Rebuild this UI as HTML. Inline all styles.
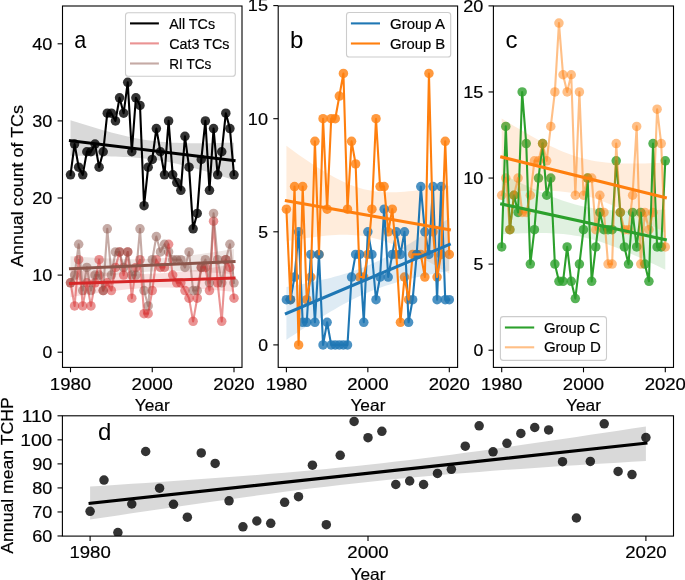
<!DOCTYPE html>
<html><head><meta charset="utf-8"><title>TC figure</title>
<style>html,body{margin:0;padding:0;background:#fff;}body{width:685px;height:580px;overflow:hidden;}svg{display:block;will-change:transform;}</style>
</head><body>
<svg width="685" height="580" viewBox="0 0 685 580" font-family='"Liberation Sans", sans-serif' fill="#000" stroke-width="0">
<rect width="685" height="580" fill="#fff"/>
<defs>
<clipPath id="ca"><rect x="62.5" y="6" width="179.5" height="361.4"/></clipPath>
<clipPath id="cb"><rect x="278.2" y="6" width="179.4" height="361.4"/></clipPath>
<clipPath id="cc"><rect x="493.4" y="6" width="180.1" height="361.4"/></clipPath>
<clipPath id="cd"><rect x="62.4" y="415.8" width="611.1" height="120.3"/></clipPath>
</defs>
<g fill="#000" fill-opacity="0.8" clip-path="url(#ca)">
<circle cx="70.5" cy="174.87" r="4.75"/>
<circle cx="74.59" cy="144.03" r="4.75"/>
<circle cx="78.67" cy="167.16" r="4.75"/>
<circle cx="82.76" cy="174.87" r="4.75"/>
<circle cx="86.85" cy="151.74" r="4.75"/>
<circle cx="90.94" cy="151.74" r="4.75"/>
<circle cx="95.03" cy="144.03" r="4.75"/>
<circle cx="99.11" cy="167.16" r="4.75"/>
<circle cx="103.2" cy="151.74" r="4.75"/>
<circle cx="107.29" cy="113.19" r="4.75"/>
<circle cx="111.38" cy="113.19" r="4.75"/>
<circle cx="115.46" cy="120.9" r="4.75"/>
<circle cx="119.55" cy="97.77" r="4.75"/>
<circle cx="123.64" cy="113.19" r="4.75"/>
<circle cx="127.72" cy="82.35" r="4.75"/>
<circle cx="131.81" cy="151.74" r="4.75"/>
<circle cx="135.9" cy="97.77" r="4.75"/>
<circle cx="139.99" cy="105.48" r="4.75"/>
<circle cx="144.07" cy="205.71" r="4.75"/>
<circle cx="148.16" cy="167.16" r="4.75"/>
<circle cx="152.25" cy="159.45" r="4.75"/>
<circle cx="156.34" cy="128.61" r="4.75"/>
<circle cx="160.43" cy="151.74" r="4.75"/>
<circle cx="164.51" cy="174.87" r="4.75"/>
<circle cx="168.6" cy="120.9" r="4.75"/>
<circle cx="172.69" cy="174.87" r="4.75"/>
<circle cx="176.78" cy="182.58" r="4.75"/>
<circle cx="180.86" cy="190.29" r="4.75"/>
<circle cx="184.95" cy="136.32" r="4.75"/>
<circle cx="189.04" cy="167.16" r="4.75"/>
<circle cx="193.12" cy="228.84" r="4.75"/>
<circle cx="197.21" cy="213.42" r="4.75"/>
<circle cx="201.3" cy="159.45" r="4.75"/>
<circle cx="205.39" cy="120.9" r="4.75"/>
<circle cx="209.47" cy="190.29" r="4.75"/>
<circle cx="213.56" cy="128.61" r="4.75"/>
<circle cx="217.65" cy="174.87" r="4.75"/>
<circle cx="221.74" cy="151.74" r="4.75"/>
<circle cx="225.82" cy="113.19" r="4.75"/>
<circle cx="229.91" cy="128.61" r="4.75"/>
<circle cx="234" cy="174.87" r="4.75"/>
</g>
<path d="M70.5,120.17 L74.59,121.49 L78.67,122.79 L82.76,124.07 L86.85,125.33 L90.94,126.58 L95.03,127.8 L99.11,129 L103.2,130.17 L107.29,131.31 L111.38,132.42 L115.46,133.49 L119.55,134.53 L123.64,135.52 L127.72,136.46 L131.81,137.34 L135.9,138.17 L139.99,138.94 L144.07,139.64 L148.16,140.28 L152.25,140.84 L156.34,141.34 L160.43,141.76 L164.51,142.12 L168.6,142.42 L172.69,142.67 L176.78,142.86 L180.86,143 L184.95,143.11 L189.04,143.18 L193.12,143.22 L197.21,143.23 L201.3,143.22 L205.39,143.19 L209.47,143.14 L213.56,143.09 L217.65,143.02 L221.74,142.94 L225.82,142.85 L229.91,142.76 L234,142.66 L234,180.04 L229.91,178.72 L225.82,177.42 L221.74,176.13 L217.65,174.87 L213.56,173.63 L209.47,172.42 L205.39,171.23 L201.3,170.06 L197.21,168.93 L193.12,167.83 L189.04,166.77 L184.95,165.75 L180.86,164.77 L176.78,163.83 L172.69,162.95 L168.6,162.12 L164.51,161.35 L160.43,160.64 L156.34,159.99 L152.25,159.41 L148.16,158.89 L144.07,158.43 L139.99,158.02 L135.9,157.67 L131.81,157.37 L127.72,157.11 L123.64,156.89 L119.55,156.71 L115.46,156.55 L111.38,156.42 L107.29,156.31 L103.2,156.21 L99.11,156.12 L95.03,156.05 L90.94,155.98 L86.85,155.92 L82.76,155.87 L78.67,155.82 L74.59,155.76 L70.5,155.71 Z" fill="#000" fill-opacity="0.15" stroke="none" clip-path="url(#ca)"/>
<g fill="#d62728" fill-opacity="0.5" clip-path="url(#ca)">
<circle cx="70.5" cy="282.81" r="4.75"/>
<circle cx="74.59" cy="305.94" r="4.75"/>
<circle cx="78.67" cy="259.68" r="4.75"/>
<circle cx="82.76" cy="305.94" r="4.75"/>
<circle cx="86.85" cy="282.81" r="4.75"/>
<circle cx="90.94" cy="305.94" r="4.75"/>
<circle cx="95.03" cy="282.81" r="4.75"/>
<circle cx="99.11" cy="259.68" r="4.75"/>
<circle cx="103.2" cy="290.52" r="4.75"/>
<circle cx="107.29" cy="282.81" r="4.75"/>
<circle cx="111.38" cy="290.52" r="4.75"/>
<circle cx="115.46" cy="267.39" r="4.75"/>
<circle cx="119.55" cy="251.97" r="4.75"/>
<circle cx="123.64" cy="275.1" r="4.75"/>
<circle cx="127.72" cy="251.97" r="4.75"/>
<circle cx="131.81" cy="298.23" r="4.75"/>
<circle cx="135.9" cy="267.39" r="4.75"/>
<circle cx="139.99" cy="259.68" r="4.75"/>
<circle cx="144.07" cy="313.65" r="4.75"/>
<circle cx="148.16" cy="313.65" r="4.75"/>
<circle cx="152.25" cy="290.52" r="4.75"/>
<circle cx="156.34" cy="259.68" r="4.75"/>
<circle cx="160.43" cy="267.39" r="4.75"/>
<circle cx="164.51" cy="267.39" r="4.75"/>
<circle cx="168.6" cy="244.26" r="4.75"/>
<circle cx="172.69" cy="275.1" r="4.75"/>
<circle cx="176.78" cy="282.81" r="4.75"/>
<circle cx="180.86" cy="282.81" r="4.75"/>
<circle cx="184.95" cy="290.52" r="4.75"/>
<circle cx="189.04" cy="298.23" r="4.75"/>
<circle cx="193.12" cy="321.36" r="4.75"/>
<circle cx="197.21" cy="298.23" r="4.75"/>
<circle cx="201.3" cy="267.39" r="4.75"/>
<circle cx="205.39" cy="267.39" r="4.75"/>
<circle cx="209.47" cy="290.52" r="4.75"/>
<circle cx="213.56" cy="221.13" r="4.75"/>
<circle cx="217.65" cy="282.81" r="4.75"/>
<circle cx="221.74" cy="321.36" r="4.75"/>
<circle cx="225.82" cy="259.68" r="4.75"/>
<circle cx="229.91" cy="267.39" r="4.75"/>
<circle cx="234" cy="298.23" r="4.75"/>
</g>
<path d="M70.5,269.71 L74.59,270.08 L78.67,270.44 L82.76,270.79 L86.85,271.14 L90.94,271.47 L95.03,271.8 L99.11,272.1 L103.2,272.4 L107.29,272.67 L111.38,272.93 L115.46,273.17 L119.55,273.38 L123.64,273.56 L127.72,273.71 L131.81,273.82 L135.9,273.89 L139.99,273.93 L144.07,273.91 L148.16,273.85 L152.25,273.74 L156.34,273.58 L160.43,273.37 L164.51,273.12 L168.6,272.82 L172.69,272.47 L176.78,272.09 L180.86,271.67 L184.95,271.22 L189.04,270.74 L193.12,270.23 L197.21,269.71 L201.3,269.16 L205.39,268.6 L209.47,268.02 L213.56,267.43 L217.65,266.82 L221.74,266.21 L225.82,265.58 L229.91,264.95 L234,264.31 L234,291.75 L229.91,291.38 L225.82,291.02 L221.74,290.66 L217.65,290.32 L213.56,289.98 L209.47,289.66 L205.39,289.35 L201.3,289.06 L197.21,288.78 L193.12,288.52 L189.04,288.29 L184.95,288.08 L180.86,287.9 L176.78,287.75 L172.69,287.64 L168.6,287.56 L164.51,287.53 L160.43,287.54 L156.34,287.6 L152.25,287.71 L148.16,287.87 L144.07,288.08 L139.99,288.34 L135.9,288.64 L131.81,288.99 L127.72,289.37 L123.64,289.79 L119.55,290.24 L115.46,290.72 L111.38,291.22 L107.29,291.75 L103.2,292.3 L99.11,292.86 L95.03,293.44 L90.94,294.03 L86.85,294.64 L82.76,295.25 L78.67,295.87 L74.59,296.51 L70.5,297.15 Z" fill="#d62728" fill-opacity="0.15" stroke="none" clip-path="url(#ca)"/>
<g fill="#8c564b" fill-opacity="0.5" clip-path="url(#ca)">
<circle cx="70.5" cy="282.81" r="4.75"/>
<circle cx="74.59" cy="275.1" r="4.75"/>
<circle cx="78.67" cy="244.26" r="4.75"/>
<circle cx="82.76" cy="290.52" r="4.75"/>
<circle cx="86.85" cy="267.39" r="4.75"/>
<circle cx="90.94" cy="290.52" r="4.75"/>
<circle cx="95.03" cy="275.1" r="4.75"/>
<circle cx="99.11" cy="275.1" r="4.75"/>
<circle cx="103.2" cy="290.52" r="4.75"/>
<circle cx="107.29" cy="228.84" r="4.75"/>
<circle cx="111.38" cy="275.1" r="4.75"/>
<circle cx="115.46" cy="251.97" r="4.75"/>
<circle cx="119.55" cy="251.97" r="4.75"/>
<circle cx="123.64" cy="267.39" r="4.75"/>
<circle cx="127.72" cy="251.97" r="4.75"/>
<circle cx="131.81" cy="275.1" r="4.75"/>
<circle cx="135.9" cy="275.1" r="4.75"/>
<circle cx="139.99" cy="228.84" r="4.75"/>
<circle cx="144.07" cy="290.52" r="4.75"/>
<circle cx="148.16" cy="305.94" r="4.75"/>
<circle cx="152.25" cy="259.68" r="4.75"/>
<circle cx="156.34" cy="236.55" r="4.75"/>
<circle cx="160.43" cy="251.97" r="4.75"/>
<circle cx="164.51" cy="244.26" r="4.75"/>
<circle cx="168.6" cy="251.97" r="4.75"/>
<circle cx="172.69" cy="259.68" r="4.75"/>
<circle cx="176.78" cy="259.68" r="4.75"/>
<circle cx="180.86" cy="259.68" r="4.75"/>
<circle cx="184.95" cy="267.39" r="4.75"/>
<circle cx="189.04" cy="251.97" r="4.75"/>
<circle cx="193.12" cy="290.52" r="4.75"/>
<circle cx="197.21" cy="290.52" r="4.75"/>
<circle cx="201.3" cy="267.39" r="4.75"/>
<circle cx="205.39" cy="259.68" r="4.75"/>
<circle cx="209.47" cy="282.81" r="4.75"/>
<circle cx="213.56" cy="213.42" r="4.75"/>
<circle cx="217.65" cy="259.68" r="4.75"/>
<circle cx="221.74" cy="282.81" r="4.75"/>
<circle cx="225.82" cy="259.68" r="4.75"/>
<circle cx="229.91" cy="244.26" r="4.75"/>
<circle cx="234" cy="282.81" r="4.75"/>
</g>
<path d="M70.5,256.26 L74.59,256.54 L78.67,256.81 L82.76,257.07 L86.85,257.33 L90.94,257.57 L95.03,257.81 L99.11,258.03 L103.2,258.24 L107.29,258.44 L111.38,258.61 L115.46,258.77 L119.55,258.9 L123.64,259.01 L127.72,259.09 L131.81,259.13 L135.9,259.14 L139.99,259.12 L144.07,259.05 L148.16,258.94 L152.25,258.78 L156.34,258.58 L160.43,258.33 L164.51,258.04 L168.6,257.71 L172.69,257.34 L176.78,256.94 L180.86,256.5 L184.95,256.03 L189.04,255.54 L193.12,255.03 L197.21,254.49 L201.3,253.94 L205.39,253.37 L209.47,252.79 L213.56,252.2 L217.65,251.59 L221.74,250.98 L225.82,250.35 L229.91,249.72 L234,249.09 L234,273.97 L229.91,273.7 L225.82,273.42 L221.74,273.16 L217.65,272.9 L213.56,272.66 L209.47,272.42 L205.39,272.2 L201.3,271.99 L197.21,271.79 L193.12,271.62 L189.04,271.46 L184.95,271.33 L180.86,271.22 L176.78,271.14 L172.69,271.1 L168.6,271.09 L164.51,271.11 L160.43,271.18 L156.34,271.29 L152.25,271.45 L148.16,271.65 L144.07,271.9 L139.99,272.19 L135.9,272.52 L131.81,272.89 L127.72,273.3 L123.64,273.73 L119.55,274.2 L115.46,274.69 L111.38,275.2 L107.29,275.74 L103.2,276.29 L99.11,276.86 L95.03,277.44 L90.94,278.04 L86.85,278.64 L82.76,279.25 L78.67,279.88 L74.59,280.51 L70.5,281.14 Z" fill="#8c564b" fill-opacity="0.15" stroke="none" clip-path="url(#ca)"/>
<polyline points="70.5,174.87 74.59,144.03 78.67,167.16 82.76,174.87 86.85,151.74 90.94,151.74 95.03,144.03 99.11,167.16 103.2,151.74 107.29,113.19 111.38,113.19 115.46,120.9 119.55,97.77 123.64,113.19 127.72,82.35 131.81,151.74 135.9,97.77 139.99,105.48 144.07,205.71 148.16,167.16 152.25,159.45 156.34,128.61 160.43,151.74 164.51,174.87 168.6,120.9 172.69,174.87 176.78,182.58 180.86,190.29 184.95,136.32 189.04,167.16 193.12,228.84 197.21,213.42 201.3,159.45 205.39,120.9 209.47,190.29 213.56,128.61 217.65,174.87 221.74,151.74 225.82,113.19 229.91,128.61 234,174.87" fill="none" stroke="#000" stroke-width="2.1" stroke-linejoin="round" stroke-linecap="square" clip-path="url(#ca)"/>
<polyline points="70.5,282.81 74.59,305.94 78.67,259.68 82.76,305.94 86.85,282.81 90.94,305.94 95.03,282.81 99.11,259.68 103.2,290.52 107.29,282.81 111.38,290.52 115.46,267.39 119.55,251.97 123.64,275.1 127.72,251.97 131.81,298.23 135.9,267.39 139.99,259.68 144.07,313.65 148.16,313.65 152.25,290.52 156.34,259.68 160.43,267.39 164.51,267.39 168.6,244.26 172.69,275.1 176.78,282.81 180.86,282.81 184.95,290.52 189.04,298.23 193.12,321.36 197.21,298.23 201.3,267.39 205.39,267.39 209.47,290.52 213.56,221.13 217.65,282.81 221.74,321.36 225.82,259.68 229.91,267.39 234,298.23" fill="none" stroke="#d62728" stroke-width="2.1" stroke-linejoin="round" stroke-linecap="square" stroke-opacity="0.5" clip-path="url(#ca)"/>
<polyline points="70.5,282.81 74.59,275.1 78.67,244.26 82.76,290.52 86.85,267.39 90.94,290.52 95.03,275.1 99.11,275.1 103.2,290.52 107.29,228.84 111.38,275.1 115.46,251.97 119.55,251.97 123.64,267.39 127.72,251.97 131.81,275.1 135.9,275.1 139.99,228.84 144.07,290.52 148.16,305.94 152.25,259.68 156.34,236.55 160.43,251.97 164.51,244.26 168.6,251.97 172.69,259.68 176.78,259.68 180.86,259.68 184.95,267.39 189.04,251.97 193.12,290.52 197.21,290.52 201.3,267.39 205.39,259.68 209.47,282.81 213.56,213.42 217.65,259.68 221.74,282.81 225.82,259.68 229.91,244.26 234,282.81" fill="none" stroke="#8c564b" stroke-width="2.1" stroke-linejoin="round" stroke-linecap="square" stroke-opacity="0.5" clip-path="url(#ca)"/>
<line x1="70.5" y1="140.71" x2="234" y2="160.53" stroke="#000" stroke-width="3.1" stroke-linecap="square" clip-path="url(#ca)"/>
<line x1="70.5" y1="283.43" x2="234" y2="278.03" stroke="#d62728" stroke-width="3.1" stroke-linecap="square" clip-path="url(#ca)"/>
<line x1="70.5" y1="268.7" x2="234" y2="261.53" stroke="#8c564b" stroke-width="3.1" stroke-linecap="square" clip-path="url(#ca)"/>
<g fill="#ff7f0e" fill-opacity="0.8" clip-path="url(#cb)">
<circle cx="286.4" cy="209.18" r="4.75"/>
<circle cx="290.47" cy="299.66" r="4.75"/>
<circle cx="294.54" cy="186.56" r="4.75"/>
<circle cx="298.62" cy="344.9" r="4.75"/>
<circle cx="302.69" cy="186.56" r="4.75"/>
<circle cx="306.76" cy="299.66" r="4.75"/>
<circle cx="310.83" cy="277.04" r="4.75"/>
<circle cx="314.91" cy="141.32" r="4.75"/>
<circle cx="318.98" cy="254.42" r="4.75"/>
<circle cx="323.05" cy="118.7" r="4.75"/>
<circle cx="327.12" cy="209.18" r="4.75"/>
<circle cx="331.2" cy="118.7" r="4.75"/>
<circle cx="335.27" cy="118.7" r="4.75"/>
<circle cx="339.34" cy="96.08" r="4.75"/>
<circle cx="343.41" cy="73.46" r="4.75"/>
<circle cx="347.49" cy="209.18" r="4.75"/>
<circle cx="351.56" cy="141.32" r="4.75"/>
<circle cx="355.63" cy="163.94" r="4.75"/>
<circle cx="359.7" cy="277.04" r="4.75"/>
<circle cx="363.78" cy="277.04" r="4.75"/>
<circle cx="367.85" cy="254.42" r="4.75"/>
<circle cx="371.92" cy="209.18" r="4.75"/>
<circle cx="376" cy="118.7" r="4.75"/>
<circle cx="380.07" cy="186.56" r="4.75"/>
<circle cx="384.14" cy="186.56" r="4.75"/>
<circle cx="388.21" cy="231.8" r="4.75"/>
<circle cx="392.28" cy="209.18" r="4.75"/>
<circle cx="396.36" cy="254.42" r="4.75"/>
<circle cx="400.43" cy="322.28" r="4.75"/>
<circle cx="404.5" cy="277.04" r="4.75"/>
<circle cx="408.57" cy="299.66" r="4.75"/>
<circle cx="412.65" cy="254.42" r="4.75"/>
<circle cx="416.72" cy="254.42" r="4.75"/>
<circle cx="420.79" cy="254.42" r="4.75"/>
<circle cx="424.87" cy="277.04" r="4.75"/>
<circle cx="428.94" cy="73.46" r="4.75"/>
<circle cx="433.01" cy="231.8" r="4.75"/>
<circle cx="437.08" cy="277.04" r="4.75"/>
<circle cx="441.16" cy="254.42" r="4.75"/>
<circle cx="445.23" cy="141.32" r="4.75"/>
<circle cx="449.3" cy="254.42" r="4.75"/>
</g>
<path d="M286.4,145.82 L290.47,148.83 L294.54,151.79 L298.62,154.7 L302.69,157.56 L306.76,160.35 L310.83,163.08 L314.91,165.74 L318.98,168.32 L323.05,170.82 L327.12,173.22 L331.2,175.53 L335.27,177.73 L339.34,179.8 L343.41,181.75 L347.49,183.55 L351.56,185.2 L355.63,186.69 L359.7,188 L363.78,189.13 L367.85,190.09 L371.92,190.86 L376,191.46 L380.07,191.9 L384.14,192.17 L388.21,192.31 L392.28,192.32 L396.36,192.21 L400.43,192.01 L404.5,191.72 L408.57,191.36 L412.65,190.94 L416.72,190.47 L420.79,189.96 L424.87,189.42 L428.94,188.85 L433.01,188.25 L437.08,187.65 L441.16,187.03 L445.23,186.4 L449.3,185.77 L449.3,273.76 L445.23,271.33 L441.16,268.93 L437.08,266.57 L433.01,264.24 L428.94,261.95 L424.87,259.71 L420.79,257.51 L416.72,255.37 L412.65,253.28 L408.57,251.27 L404.5,249.33 L400.43,247.47 L396.36,245.7 L392.28,244.04 L388.21,242.49 L384.14,241.07 L380.07,239.78 L376,238.63 L371.92,237.64 L367.85,236.79 L363.78,236.1 L359.7,235.56 L355.63,235.16 L351.56,234.9 L347.49,234.77 L343.41,234.75 L339.34,234.84 L335.27,235.02 L331.2,235.28 L327.12,235.62 L323.05,236.01 L318.98,236.46 L314.91,236.96 L310.83,237.5 L306.76,238.07 L302.69,238.67 L298.62,239.29 L294.54,239.94 L290.47,240.6 L286.4,241.28 Z" fill="#ff7f0e" fill-opacity="0.15" stroke="none" clip-path="url(#cb)"/>
<g fill="#1f77b4" fill-opacity="0.8" clip-path="url(#cb)">
<circle cx="286.4" cy="299.66" r="4.75"/>
<circle cx="290.47" cy="299.66" r="4.75"/>
<circle cx="294.54" cy="277.04" r="4.75"/>
<circle cx="298.62" cy="231.8" r="4.75"/>
<circle cx="302.69" cy="322.28" r="4.75"/>
<circle cx="306.76" cy="322.28" r="4.75"/>
<circle cx="310.83" cy="254.42" r="4.75"/>
<circle cx="314.91" cy="322.28" r="4.75"/>
<circle cx="318.98" cy="254.42" r="4.75"/>
<circle cx="323.05" cy="344.9" r="4.75"/>
<circle cx="327.12" cy="322.28" r="4.75"/>
<circle cx="331.2" cy="344.9" r="4.75"/>
<circle cx="335.27" cy="344.9" r="4.75"/>
<circle cx="339.34" cy="344.9" r="4.75"/>
<circle cx="343.41" cy="344.9" r="4.75"/>
<circle cx="347.49" cy="344.9" r="4.75"/>
<circle cx="351.56" cy="277.04" r="4.75"/>
<circle cx="355.63" cy="254.42" r="4.75"/>
<circle cx="359.7" cy="254.42" r="4.75"/>
<circle cx="363.78" cy="322.28" r="4.75"/>
<circle cx="367.85" cy="231.8" r="4.75"/>
<circle cx="371.92" cy="254.42" r="4.75"/>
<circle cx="376" cy="299.66" r="4.75"/>
<circle cx="380.07" cy="277.04" r="4.75"/>
<circle cx="384.14" cy="209.18" r="4.75"/>
<circle cx="388.21" cy="277.04" r="4.75"/>
<circle cx="392.28" cy="254.42" r="4.75"/>
<circle cx="396.36" cy="231.8" r="4.75"/>
<circle cx="400.43" cy="254.42" r="4.75"/>
<circle cx="404.5" cy="231.8" r="4.75"/>
<circle cx="408.57" cy="322.28" r="4.75"/>
<circle cx="412.65" cy="299.66" r="4.75"/>
<circle cx="416.72" cy="254.42" r="4.75"/>
<circle cx="420.79" cy="186.56" r="4.75"/>
<circle cx="424.87" cy="231.8" r="4.75"/>
<circle cx="428.94" cy="254.42" r="4.75"/>
<circle cx="433.01" cy="186.56" r="4.75"/>
<circle cx="437.08" cy="299.66" r="4.75"/>
<circle cx="441.16" cy="186.56" r="4.75"/>
<circle cx="445.23" cy="299.66" r="4.75"/>
<circle cx="449.3" cy="299.66" r="4.75"/>
</g>
<path d="M286.4,287.11 L290.47,286.36 L294.54,285.59 L298.62,284.8 L302.69,284 L306.76,283.17 L310.83,282.33 L314.91,281.46 L318.98,280.55 L323.05,279.62 L327.12,278.65 L331.2,277.63 L335.27,276.57 L339.34,275.45 L343.41,274.27 L347.49,273.02 L351.56,271.7 L355.63,270.3 L359.7,268.81 L363.78,267.23 L367.85,265.55 L371.92,263.78 L376,261.91 L380.07,259.95 L384.14,257.9 L388.21,255.78 L392.28,253.57 L396.36,251.3 L400.43,248.97 L404.5,246.59 L408.57,244.15 L412.65,241.67 L416.72,239.16 L420.79,236.61 L424.87,234.03 L428.94,231.43 L433.01,228.81 L437.08,226.16 L441.16,223.5 L445.23,220.82 L449.3,218.12 L449.3,270.81 L445.23,271.57 L441.16,272.34 L437.08,273.12 L433.01,273.93 L428.94,274.75 L424.87,275.6 L420.79,276.47 L416.72,277.37 L412.65,278.31 L408.57,279.28 L404.5,280.29 L400.43,281.36 L396.36,282.48 L392.28,283.65 L388.21,284.9 L384.14,286.22 L380.07,287.63 L376,289.12 L371.92,290.7 L367.85,292.38 L363.78,294.15 L359.7,296.02 L355.63,297.98 L351.56,300.02 L347.49,302.15 L343.41,304.35 L339.34,306.62 L335.27,308.95 L331.2,311.34 L327.12,313.77 L323.05,316.25 L318.98,318.77 L314.91,321.31 L310.83,323.89 L306.76,326.49 L302.69,329.12 L298.62,331.77 L294.54,334.43 L290.47,337.11 L286.4,339.8 Z" fill="#1f77b4" fill-opacity="0.15" stroke="none" clip-path="url(#cb)"/>
<polyline points="286.4,299.66 290.47,299.66 294.54,277.04 298.62,231.8 302.69,322.28 306.76,322.28 310.83,254.42 314.91,322.28 318.98,254.42 323.05,344.9 327.12,322.28 331.2,344.9 335.27,344.9 339.34,344.9 343.41,344.9 347.49,344.9 351.56,277.04 355.63,254.42 359.7,254.42 363.78,322.28 367.85,231.8 371.92,254.42 376,299.66 380.07,277.04 384.14,209.18 388.21,277.04 392.28,254.42 396.36,231.8 400.43,254.42 404.5,231.8 408.57,322.28 412.65,299.66 416.72,254.42 420.79,186.56 424.87,231.8 428.94,254.42 433.01,186.56 437.08,299.66 441.16,186.56 445.23,299.66 449.3,299.66" fill="none" stroke="#1f77b4" stroke-width="2.1" stroke-linejoin="round" stroke-linecap="square" clip-path="url(#cb)"/>
<polyline points="286.4,209.18 290.47,299.66 294.54,186.56 298.62,344.9 302.69,186.56 306.76,299.66 310.83,277.04 314.91,141.32 318.98,254.42 323.05,118.7 327.12,209.18 331.2,118.7 335.27,118.7 339.34,96.08 343.41,73.46 347.49,209.18 351.56,141.32 355.63,163.94 359.7,277.04 363.78,277.04 367.85,254.42 371.92,209.18 376,118.7 380.07,186.56 384.14,186.56 388.21,231.8 392.28,209.18 396.36,254.42 400.43,322.28 404.5,277.04 408.57,299.66 412.65,254.42 416.72,254.42 420.79,254.42 424.87,277.04 428.94,73.46 433.01,231.8 437.08,277.04 441.16,254.42 445.23,141.32 449.3,254.42" fill="none" stroke="#ff7f0e" stroke-width="2.1" stroke-linejoin="round" stroke-linecap="square" clip-path="url(#cb)"/>
<line x1="286.4" y1="200.81" x2="449.3" y2="229.76" stroke="#ff7f0e" stroke-width="3.1" stroke-linecap="square" clip-path="url(#cb)"/>
<line x1="286.4" y1="313.46" x2="449.3" y2="244.47" stroke="#1f77b4" stroke-width="3.1" stroke-linecap="square" clip-path="url(#cb)"/>
<g fill="#2ca02c" fill-opacity="0.8" clip-path="url(#cc)">
<circle cx="501.7" cy="246.91" r="4.75"/>
<circle cx="505.79" cy="126.4" r="4.75"/>
<circle cx="509.88" cy="229.69" r="4.75"/>
<circle cx="513.97" cy="195.26" r="4.75"/>
<circle cx="518.06" cy="212.48" r="4.75"/>
<circle cx="522.15" cy="91.97" r="4.75"/>
<circle cx="526.24" cy="143.62" r="4.75"/>
<circle cx="530.33" cy="264.12" r="4.75"/>
<circle cx="534.42" cy="229.69" r="4.75"/>
<circle cx="538.51" cy="178.05" r="4.75"/>
<circle cx="542.6" cy="143.62" r="4.75"/>
<circle cx="546.69" cy="195.26" r="4.75"/>
<circle cx="550.78" cy="178.05" r="4.75"/>
<circle cx="554.87" cy="264.12" r="4.75"/>
<circle cx="558.96" cy="281.34" r="4.75"/>
<circle cx="563.05" cy="281.34" r="4.75"/>
<circle cx="567.14" cy="246.91" r="4.75"/>
<circle cx="571.23" cy="281.34" r="4.75"/>
<circle cx="575.32" cy="298.56" r="4.75"/>
<circle cx="579.41" cy="264.12" r="4.75"/>
<circle cx="583.5" cy="229.69" r="4.75"/>
<circle cx="587.59" cy="178.05" r="4.75"/>
<circle cx="591.68" cy="281.34" r="4.75"/>
<circle cx="595.77" cy="246.91" r="4.75"/>
<circle cx="599.86" cy="212.48" r="4.75"/>
<circle cx="603.95" cy="229.69" r="4.75"/>
<circle cx="608.04" cy="229.69" r="4.75"/>
<circle cx="612.13" cy="229.69" r="4.75"/>
<circle cx="616.22" cy="160.83" r="4.75"/>
<circle cx="620.31" cy="212.48" r="4.75"/>
<circle cx="624.4" cy="246.91" r="4.75"/>
<circle cx="628.49" cy="264.12" r="4.75"/>
<circle cx="632.58" cy="212.48" r="4.75"/>
<circle cx="636.67" cy="246.91" r="4.75"/>
<circle cx="640.76" cy="212.48" r="4.75"/>
<circle cx="644.85" cy="264.12" r="4.75"/>
<circle cx="648.94" cy="281.34" r="4.75"/>
<circle cx="653.03" cy="143.62" r="4.75"/>
<circle cx="657.12" cy="246.91" r="4.75"/>
<circle cx="661.21" cy="246.91" r="4.75"/>
<circle cx="665.3" cy="160.83" r="4.75"/>
</g>
<path d="M501.7,173.91 L505.79,175.91 L509.88,177.9 L513.97,179.86 L518.06,181.81 L522.15,183.73 L526.24,185.62 L530.33,187.49 L534.42,189.32 L538.51,191.11 L542.6,192.87 L546.69,194.57 L550.78,196.22 L554.87,197.8 L558.96,199.32 L563.05,200.75 L567.14,202.1 L571.23,203.36 L575.32,204.52 L579.41,205.57 L583.5,206.52 L587.59,207.36 L591.68,208.08 L595.77,208.71 L599.86,209.23 L603.95,209.66 L608.04,210.01 L612.13,210.27 L616.22,210.47 L620.31,210.6 L624.4,210.68 L628.49,210.71 L632.58,210.7 L636.67,210.65 L640.76,210.57 L644.85,210.45 L648.94,210.31 L653.03,210.15 L657.12,209.97 L661.21,209.77 L665.3,209.55 L665.3,269.81 L661.21,267.81 L657.12,265.83 L653.03,263.86 L648.94,261.92 L644.85,260 L640.76,258.1 L636.67,256.24 L632.58,254.4 L628.49,252.61 L624.4,250.86 L620.31,249.16 L616.22,247.51 L612.13,245.92 L608.04,244.41 L603.95,242.97 L599.86,241.62 L595.77,240.36 L591.68,239.2 L587.59,238.15 L583.5,237.2 L579.41,236.37 L575.32,235.64 L571.23,235.02 L567.14,234.49 L563.05,234.06 L558.96,233.72 L554.87,233.45 L550.78,233.25 L546.69,233.12 L542.6,233.04 L538.51,233.01 L534.42,233.02 L530.33,233.07 L526.24,233.16 L522.15,233.27 L518.06,233.41 L513.97,233.57 L509.88,233.76 L505.79,233.96 L501.7,234.18 Z" fill="#2ca02c" fill-opacity="0.15" stroke="none" clip-path="url(#cc)"/>
<g fill="#ff7f0e" fill-opacity="0.5" clip-path="url(#cc)">
<circle cx="501.7" cy="195.26" r="4.75"/>
<circle cx="505.79" cy="178.05" r="4.75"/>
<circle cx="509.88" cy="229.69" r="4.75"/>
<circle cx="513.97" cy="195.26" r="4.75"/>
<circle cx="518.06" cy="178.05" r="4.75"/>
<circle cx="522.15" cy="212.48" r="4.75"/>
<circle cx="526.24" cy="212.48" r="4.75"/>
<circle cx="530.33" cy="195.26" r="4.75"/>
<circle cx="534.42" cy="160.83" r="4.75"/>
<circle cx="538.51" cy="160.83" r="4.75"/>
<circle cx="542.6" cy="143.62" r="4.75"/>
<circle cx="546.69" cy="160.83" r="4.75"/>
<circle cx="550.78" cy="126.4" r="4.75"/>
<circle cx="554.87" cy="91.97" r="4.75"/>
<circle cx="558.96" cy="23.12" r="4.75"/>
<circle cx="563.05" cy="74.76" r="4.75"/>
<circle cx="567.14" cy="91.97" r="4.75"/>
<circle cx="571.23" cy="74.76" r="4.75"/>
<circle cx="575.32" cy="195.26" r="4.75"/>
<circle cx="579.41" cy="91.97" r="4.75"/>
<circle cx="583.5" cy="195.26" r="4.75"/>
<circle cx="587.59" cy="178.05" r="4.75"/>
<circle cx="591.68" cy="178.05" r="4.75"/>
<circle cx="595.77" cy="229.69" r="4.75"/>
<circle cx="599.86" cy="195.26" r="4.75"/>
<circle cx="603.95" cy="212.48" r="4.75"/>
<circle cx="608.04" cy="264.12" r="4.75"/>
<circle cx="612.13" cy="264.12" r="4.75"/>
<circle cx="616.22" cy="143.62" r="4.75"/>
<circle cx="620.31" cy="212.48" r="4.75"/>
<circle cx="624.4" cy="229.69" r="4.75"/>
<circle cx="628.49" cy="229.69" r="4.75"/>
<circle cx="632.58" cy="195.26" r="4.75"/>
<circle cx="636.67" cy="126.4" r="4.75"/>
<circle cx="640.76" cy="264.12" r="4.75"/>
<circle cx="644.85" cy="212.48" r="4.75"/>
<circle cx="648.94" cy="229.69" r="4.75"/>
<circle cx="653.03" cy="212.48" r="4.75"/>
<circle cx="657.12" cy="109.19" r="4.75"/>
<circle cx="661.21" cy="143.62" r="4.75"/>
<circle cx="665.3" cy="246.91" r="4.75"/>
</g>
<path d="M501.7,118.44 L505.79,120.96 L509.88,123.45 L513.97,125.92 L518.06,128.35 L522.15,130.75 L526.24,133.1 L530.33,135.42 L534.42,137.68 L538.51,139.9 L542.6,142.05 L546.69,144.14 L550.78,146.15 L554.87,148.09 L558.96,149.93 L563.05,151.67 L567.14,153.3 L571.23,154.82 L575.32,156.21 L579.41,157.47 L583.5,158.6 L587.59,159.59 L591.68,160.45 L595.77,161.19 L599.86,161.8 L603.95,162.31 L608.04,162.72 L612.13,163.03 L616.22,163.27 L620.31,163.43 L624.4,163.53 L628.49,163.58 L632.58,163.59 L636.67,163.55 L640.76,163.48 L644.85,163.38 L648.94,163.26 L653.03,163.11 L657.12,162.95 L661.21,162.77 L665.3,162.58 L665.3,232.77 L661.21,230.47 L657.12,228.18 L653.03,225.91 L648.94,223.67 L644.85,221.45 L640.76,219.27 L636.67,217.12 L632.58,215 L628.49,212.94 L624.4,210.92 L620.31,208.96 L616.22,207.06 L612.13,205.24 L608.04,203.49 L603.95,201.84 L599.86,200.29 L595.77,198.85 L591.68,197.52 L587.59,196.31 L583.5,195.23 L579.41,194.28 L575.32,193.45 L571.23,192.75 L567.14,192.16 L563.05,191.68 L558.96,191.3 L554.87,191.02 L550.78,190.81 L546.69,190.67 L542.6,190.6 L538.51,190.59 L534.42,190.63 L530.33,190.71 L526.24,190.83 L522.15,190.98 L518.06,191.17 L513.97,191.38 L509.88,191.61 L505.79,191.87 L501.7,192.15 Z" fill="#ff7f0e" fill-opacity="0.15" stroke="none" clip-path="url(#cc)"/>
<polyline points="501.7,246.91 505.79,126.4 509.88,229.69 513.97,195.26 518.06,212.48 522.15,91.97 526.24,143.62 530.33,264.12 534.42,229.69 538.51,178.05 542.6,143.62 546.69,195.26 550.78,178.05 554.87,264.12 558.96,281.34 563.05,281.34 567.14,246.91 571.23,281.34 575.32,298.56 579.41,264.12 583.5,229.69 587.59,178.05 591.68,281.34 595.77,246.91 599.86,212.48 603.95,229.69 608.04,229.69 612.13,229.69 616.22,160.83 620.31,212.48 624.4,246.91 628.49,264.12 632.58,212.48 636.67,246.91 640.76,212.48 644.85,264.12 648.94,281.34 653.03,143.62 657.12,246.91 661.21,246.91 665.3,160.83" fill="none" stroke="#2ca02c" stroke-width="2.1" stroke-linejoin="round" stroke-linecap="square" clip-path="url(#cc)"/>
<polyline points="501.7,195.26 505.79,178.05 509.88,229.69 513.97,195.26 518.06,178.05 522.15,212.48 526.24,212.48 530.33,195.26 534.42,160.83 538.51,160.83 542.6,143.62 546.69,160.83 550.78,126.4 554.87,91.97 558.96,23.12 563.05,74.76 567.14,91.97 571.23,74.76 575.32,195.26 579.41,91.97 583.5,195.26 587.59,178.05 591.68,178.05 595.77,229.69 599.86,195.26 603.95,212.48 608.04,264.12 612.13,264.12 616.22,143.62 620.31,212.48 624.4,229.69 628.49,229.69 632.58,195.26 636.67,126.4 640.76,264.12 644.85,212.48 648.94,229.69 653.03,212.48 657.12,109.19 661.21,143.62 665.3,246.91" fill="none" stroke="#ff7f0e" stroke-width="2.1" stroke-linejoin="round" stroke-linecap="square" stroke-opacity="0.5" clip-path="url(#cc)"/>
<line x1="501.7" y1="204.04" x2="665.3" y2="239.68" stroke="#2ca02c" stroke-width="3.1" stroke-linecap="square" clip-path="url(#cc)"/>
<line x1="501.7" y1="157.05" x2="665.3" y2="197.68" stroke="#ff7f0e" stroke-width="3.1" stroke-linecap="square" clip-path="url(#cc)"/>
<g fill="#000" fill-opacity="0.8" clip-path="url(#cd)">
<circle cx="90.1" cy="511.3" r="4.75"/>
<circle cx="103.99" cy="480.1" r="4.75"/>
<circle cx="117.89" cy="532.6" r="4.75"/>
<circle cx="131.78" cy="504" r="4.75"/>
<circle cx="145.68" cy="451.5" r="4.75"/>
<circle cx="159.57" cy="488.2" r="4.75"/>
<circle cx="173.47" cy="504.3" r="4.75"/>
<circle cx="187.36" cy="517.2" r="4.75"/>
<circle cx="201.26" cy="452.9" r="4.75"/>
<circle cx="215.15" cy="463.4" r="4.75"/>
<circle cx="229.05" cy="500.8" r="4.75"/>
<circle cx="242.94" cy="526.8" r="4.75"/>
<circle cx="256.84" cy="521" r="4.75"/>
<circle cx="270.74" cy="523.3" r="4.75"/>
<circle cx="284.63" cy="502.3" r="4.75"/>
<circle cx="298.52" cy="496.7" r="4.75"/>
<circle cx="312.42" cy="465.2" r="4.75"/>
<circle cx="326.31" cy="524.7" r="4.75"/>
<circle cx="340.21" cy="455.3" r="4.75"/>
<circle cx="354.11" cy="421.4" r="4.75"/>
<circle cx="368" cy="437.7" r="4.75"/>
<circle cx="381.89" cy="431.3" r="4.75"/>
<circle cx="395.79" cy="484.5" r="4.75"/>
<circle cx="409.68" cy="481" r="4.75"/>
<circle cx="423.58" cy="484.5" r="4.75"/>
<circle cx="437.47" cy="473.4" r="4.75"/>
<circle cx="451.37" cy="469.3" r="4.75"/>
<circle cx="465.26" cy="446.2" r="4.75"/>
<circle cx="479.16" cy="425.8" r="4.75"/>
<circle cx="493.05" cy="451.8" r="4.75"/>
<circle cx="506.95" cy="443.3" r="4.75"/>
<circle cx="520.85" cy="433.4" r="4.75"/>
<circle cx="534.74" cy="427.5" r="4.75"/>
<circle cx="548.63" cy="429.9" r="4.75"/>
<circle cx="562.53" cy="461.7" r="4.75"/>
<circle cx="576.42" cy="518" r="4.75"/>
<circle cx="590.32" cy="461.4" r="4.75"/>
<circle cx="604.22" cy="423.8" r="4.75"/>
<circle cx="618.11" cy="471.4" r="4.75"/>
<circle cx="632" cy="474.6" r="4.75"/>
<circle cx="645.9" cy="437.6" r="4.75"/>
</g>
<path d="M90.1,486.51 L103.99,485.63 L117.89,484.73 L131.78,483.83 L145.68,482.92 L159.57,482 L173.47,481.05 L187.36,480.1 L201.26,479.12 L215.15,478.12 L229.05,477.1 L242.94,476.05 L256.84,474.97 L270.74,473.86 L284.63,472.7 L298.52,471.51 L312.42,470.26 L326.31,468.96 L340.21,467.61 L354.11,466.19 L368,464.72 L381.89,463.19 L395.79,461.59 L409.68,459.94 L423.58,458.23 L437.47,456.47 L451.37,454.66 L465.26,452.81 L479.16,450.91 L493.05,448.99 L506.95,447.03 L520.85,445.05 L534.74,443.04 L548.63,441.01 L562.53,438.96 L576.42,436.9 L590.32,434.82 L604.22,432.73 L618.11,430.63 L632,428.52 L645.9,426.4 L645.9,461.07 L632,461.87 L618.11,462.69 L604.22,463.52 L590.32,464.37 L576.42,465.23 L562.53,466.11 L548.63,467.02 L534.74,467.94 L520.85,468.89 L506.95,469.87 L493.05,470.87 L479.16,471.92 L465.26,472.99 L451.37,474.12 L437.47,475.28 L423.58,476.5 L409.68,477.78 L395.79,479.11 L381.89,480.5 L368,481.95 L354.11,483.46 L340.21,485.03 L326.31,486.67 L312.42,488.35 L298.52,490.09 L284.63,491.87 L270.74,493.7 L256.84,495.56 L242.94,497.45 L229.05,499.38 L215.15,501.32 L201.26,503.29 L187.36,505.28 L173.47,507.28 L159.57,509.29 L145.68,511.32 L131.78,513.35 L117.89,515.39 L103.99,517.44 L90.1,519.5 Z" fill="#000" fill-opacity="0.15" stroke="none" clip-path="url(#cd)"/>
<line x1="90.1" y1="503.4" x2="645.9" y2="443.2" stroke="#000" stroke-width="3.1" stroke-linecap="square" clip-path="url(#cd)"/>
<rect x="62.5" y="6" width="179.5" height="361.4" fill="none" stroke="#000" stroke-width="1.1"/>
<rect x="278.2" y="6" width="179.4" height="361.4" fill="none" stroke="#000" stroke-width="1.1"/>
<rect x="493.4" y="6" width="180.1" height="361.4" fill="none" stroke="#000" stroke-width="1.1"/>
<rect x="62.4" y="415.8" width="611.1" height="120.3" fill="none" stroke="#000" stroke-width="1.1"/>
<line x1="70.5" y1="367.4" x2="70.5" y2="372.3" stroke="#000" stroke-width="1.1"/>
<text x="70.5" y="389.6" font-size="16" text-anchor="middle" textLength="41.29" lengthAdjust="spacingAndGlyphs" stroke="#000" stroke-width="0.18">1980</text>
<line x1="152.25" y1="367.4" x2="152.25" y2="372.3" stroke="#000" stroke-width="1.1"/>
<text x="152.25" y="389.6" font-size="16" text-anchor="middle" textLength="41.29" lengthAdjust="spacingAndGlyphs" stroke="#000" stroke-width="0.18">2000</text>
<line x1="234" y1="367.4" x2="234" y2="372.3" stroke="#000" stroke-width="1.1"/>
<text x="234" y="389.6" font-size="16" text-anchor="middle" textLength="41.29" lengthAdjust="spacingAndGlyphs" stroke="#000" stroke-width="0.18">2020</text>
<line x1="286.4" y1="367.4" x2="286.4" y2="372.3" stroke="#000" stroke-width="1.1"/>
<text x="286.4" y="389.6" font-size="16" text-anchor="middle" textLength="41.29" lengthAdjust="spacingAndGlyphs" stroke="#000" stroke-width="0.18">1980</text>
<line x1="367.85" y1="367.4" x2="367.85" y2="372.3" stroke="#000" stroke-width="1.1"/>
<text x="367.85" y="389.6" font-size="16" text-anchor="middle" textLength="41.29" lengthAdjust="spacingAndGlyphs" stroke="#000" stroke-width="0.18">2000</text>
<line x1="449.3" y1="367.4" x2="449.3" y2="372.3" stroke="#000" stroke-width="1.1"/>
<text x="449.3" y="389.6" font-size="16" text-anchor="middle" textLength="41.29" lengthAdjust="spacingAndGlyphs" stroke="#000" stroke-width="0.18">2020</text>
<line x1="501.7" y1="367.4" x2="501.7" y2="372.3" stroke="#000" stroke-width="1.1"/>
<text x="501.7" y="389.6" font-size="16" text-anchor="middle" textLength="41.29" lengthAdjust="spacingAndGlyphs" stroke="#000" stroke-width="0.18">1980</text>
<line x1="583.5" y1="367.4" x2="583.5" y2="372.3" stroke="#000" stroke-width="1.1"/>
<text x="583.5" y="389.6" font-size="16" text-anchor="middle" textLength="41.29" lengthAdjust="spacingAndGlyphs" stroke="#000" stroke-width="0.18">2000</text>
<line x1="665.3" y1="367.4" x2="665.3" y2="372.3" stroke="#000" stroke-width="1.1"/>
<text x="665.3" y="389.6" font-size="16" text-anchor="middle" textLength="41.29" lengthAdjust="spacingAndGlyphs" stroke="#000" stroke-width="0.18">2020</text>
<line x1="90.1" y1="536.1" x2="90.1" y2="541" stroke="#000" stroke-width="1.1"/>
<text x="90.1" y="558.4" font-size="16" text-anchor="middle" textLength="41.29" lengthAdjust="spacingAndGlyphs" stroke="#000" stroke-width="0.18">1980</text>
<line x1="368" y1="536.1" x2="368" y2="541" stroke="#000" stroke-width="1.1"/>
<text x="368" y="558.4" font-size="16" text-anchor="middle" textLength="41.29" lengthAdjust="spacingAndGlyphs" stroke="#000" stroke-width="0.18">2000</text>
<line x1="645.9" y1="536.1" x2="645.9" y2="541" stroke="#000" stroke-width="1.1"/>
<text x="645.9" y="558.4" font-size="16" text-anchor="middle" textLength="41.29" lengthAdjust="spacingAndGlyphs" stroke="#000" stroke-width="0.18">2020</text>
<line x1="57.6" y1="352.2" x2="62.5" y2="352.2" stroke="#000" stroke-width="1.1"/>
<text x="52.4" y="358" font-size="16" text-anchor="end" textLength="9.79" lengthAdjust="spacingAndGlyphs" stroke="#000" stroke-width="0.18">0</text>
<line x1="57.6" y1="275.1" x2="62.5" y2="275.1" stroke="#000" stroke-width="1.1"/>
<text x="52.4" y="280.9" font-size="16" text-anchor="end" textLength="20.11" lengthAdjust="spacingAndGlyphs" stroke="#000" stroke-width="0.18">10</text>
<line x1="57.6" y1="198" x2="62.5" y2="198" stroke="#000" stroke-width="1.1"/>
<text x="52.4" y="203.8" font-size="16" text-anchor="end" textLength="20.11" lengthAdjust="spacingAndGlyphs" stroke="#000" stroke-width="0.18">20</text>
<line x1="57.6" y1="120.9" x2="62.5" y2="120.9" stroke="#000" stroke-width="1.1"/>
<text x="52.4" y="126.7" font-size="16" text-anchor="end" textLength="20.11" lengthAdjust="spacingAndGlyphs" stroke="#000" stroke-width="0.18">30</text>
<line x1="57.6" y1="43.8" x2="62.5" y2="43.8" stroke="#000" stroke-width="1.1"/>
<text x="52.4" y="49.6" font-size="16" text-anchor="end" textLength="20.11" lengthAdjust="spacingAndGlyphs" stroke="#000" stroke-width="0.18">40</text>
<line x1="273.3" y1="344.9" x2="278.2" y2="344.9" stroke="#000" stroke-width="1.1"/>
<text x="268" y="350.7" font-size="16" text-anchor="end" textLength="9.79" lengthAdjust="spacingAndGlyphs" stroke="#000" stroke-width="0.18">0</text>
<line x1="273.3" y1="231.8" x2="278.2" y2="231.8" stroke="#000" stroke-width="1.1"/>
<text x="268" y="237.6" font-size="16" text-anchor="end" textLength="9.79" lengthAdjust="spacingAndGlyphs" stroke="#000" stroke-width="0.18">5</text>
<line x1="273.3" y1="118.7" x2="278.2" y2="118.7" stroke="#000" stroke-width="1.1"/>
<text x="268" y="124.5" font-size="16" text-anchor="end" textLength="20.11" lengthAdjust="spacingAndGlyphs" stroke="#000" stroke-width="0.18">10</text>
<line x1="273.3" y1="5.6" x2="278.2" y2="5.6" stroke="#000" stroke-width="1.1"/>
<text x="268" y="11.4" font-size="16" text-anchor="end" textLength="20.11" lengthAdjust="spacingAndGlyphs" stroke="#000" stroke-width="0.18">15</text>
<line x1="488.5" y1="350.2" x2="493.4" y2="350.2" stroke="#000" stroke-width="1.1"/>
<text x="483.3" y="356" font-size="16" text-anchor="end" textLength="9.79" lengthAdjust="spacingAndGlyphs" stroke="#000" stroke-width="0.18">0</text>
<line x1="488.5" y1="264.12" x2="493.4" y2="264.12" stroke="#000" stroke-width="1.1"/>
<text x="483.3" y="269.93" font-size="16" text-anchor="end" textLength="9.79" lengthAdjust="spacingAndGlyphs" stroke="#000" stroke-width="0.18">5</text>
<line x1="488.5" y1="178.05" x2="493.4" y2="178.05" stroke="#000" stroke-width="1.1"/>
<text x="483.3" y="183.85" font-size="16" text-anchor="end" textLength="20.11" lengthAdjust="spacingAndGlyphs" stroke="#000" stroke-width="0.18">10</text>
<line x1="488.5" y1="91.97" x2="493.4" y2="91.97" stroke="#000" stroke-width="1.1"/>
<text x="483.3" y="97.77" font-size="16" text-anchor="end" textLength="20.11" lengthAdjust="spacingAndGlyphs" stroke="#000" stroke-width="0.18">15</text>
<line x1="488.5" y1="5.9" x2="493.4" y2="5.9" stroke="#000" stroke-width="1.1"/>
<text x="483.3" y="11.7" font-size="16" text-anchor="end" textLength="20.11" lengthAdjust="spacingAndGlyphs" stroke="#000" stroke-width="0.18">20</text>
<line x1="57.5" y1="536" x2="62.4" y2="536" stroke="#000" stroke-width="1.1"/>
<text x="52.3" y="541.8" font-size="16" text-anchor="end" textLength="20.11" lengthAdjust="spacingAndGlyphs" stroke="#000" stroke-width="0.18">60</text>
<line x1="57.5" y1="511.96" x2="62.4" y2="511.96" stroke="#000" stroke-width="1.1"/>
<text x="52.3" y="517.76" font-size="16" text-anchor="end" textLength="20.11" lengthAdjust="spacingAndGlyphs" stroke="#000" stroke-width="0.18">70</text>
<line x1="57.5" y1="487.92" x2="62.4" y2="487.92" stroke="#000" stroke-width="1.1"/>
<text x="52.3" y="493.72" font-size="16" text-anchor="end" textLength="20.11" lengthAdjust="spacingAndGlyphs" stroke="#000" stroke-width="0.18">80</text>
<line x1="57.5" y1="463.88" x2="62.4" y2="463.88" stroke="#000" stroke-width="1.1"/>
<text x="52.3" y="469.68" font-size="16" text-anchor="end" textLength="20.11" lengthAdjust="spacingAndGlyphs" stroke="#000" stroke-width="0.18">90</text>
<line x1="57.5" y1="439.84" x2="62.4" y2="439.84" stroke="#000" stroke-width="1.1"/>
<text x="52.3" y="445.64" font-size="16" text-anchor="end" textLength="32.03" lengthAdjust="spacingAndGlyphs" stroke="#000" stroke-width="0.18">100</text>
<line x1="57.5" y1="415.8" x2="62.4" y2="415.8" stroke="#000" stroke-width="1.1"/>
<text x="52.3" y="421.6" font-size="16" text-anchor="end" textLength="30.61" lengthAdjust="spacingAndGlyphs" stroke="#000" stroke-width="0.18">110</text>
<text x="152.25" y="410.8" font-size="16.5" text-anchor="middle" textLength="35.01" lengthAdjust="spacingAndGlyphs" stroke="#000" stroke-width="0.18">Year</text>
<text x="367.9" y="410.8" font-size="16.5" text-anchor="middle" textLength="35.01" lengthAdjust="spacingAndGlyphs" stroke="#000" stroke-width="0.18">Year</text>
<text x="583.45" y="410.8" font-size="16.5" text-anchor="middle" textLength="35.01" lengthAdjust="spacingAndGlyphs" stroke="#000" stroke-width="0.18">Year</text>
<text x="367.95" y="579.8" font-size="16.5" text-anchor="middle" textLength="35.01" lengthAdjust="spacingAndGlyphs" stroke="#000" stroke-width="0.18">Year</text>
<text transform="translate(22.9,186.0) rotate(-90)" x="0" y="0" font-size="16.5" text-anchor="middle" textLength="162" lengthAdjust="spacingAndGlyphs" stroke="#000" stroke-width="0.18">Annual count of TCs</text>
<text transform="translate(12.9,475.5) rotate(-90)" x="0" y="0" font-size="16.5" text-anchor="middle" textLength="156.5" lengthAdjust="spacingAndGlyphs" stroke="#000" stroke-width="0.18">Annual mean TCHP</text>
<text x="74.2" y="48" font-size="24" text-anchor="start" textLength="12.01" lengthAdjust="spacingAndGlyphs">a</text>
<text x="290" y="48" font-size="24" text-anchor="start">b</text>
<text x="505.6" y="48" font-size="24" text-anchor="start">c</text>
<text x="98" y="440" font-size="24" text-anchor="start">d</text>
<rect x="125.5" y="12.8" width="109.8" height="63.5" rx="2.8" ry="2.8" fill="#fff" fill-opacity="0.8" stroke="#cccccc" stroke-width="1.1"/>
<line x1="130" y1="23.4" x2="158.9" y2="23.4" stroke="#000" stroke-width="2.1"/>
<text x="169.3" y="28.5" font-size="14" text-anchor="start" textLength="45.75" lengthAdjust="spacingAndGlyphs" stroke="#000" stroke-width="0.18">All TCs</text>
<line x1="130" y1="43.4" x2="158.9" y2="43.4" stroke="#d62728" stroke-width="2.1" stroke-opacity="0.5"/>
<text x="169.3" y="48.5" font-size="14" text-anchor="start" textLength="60.05" lengthAdjust="spacingAndGlyphs" stroke="#000" stroke-width="0.18">Cat3 TCs</text>
<line x1="130" y1="63.5" x2="158.9" y2="63.5" stroke="#8c564b" stroke-width="2.1" stroke-opacity="0.5"/>
<text x="169.3" y="68.6" font-size="14" text-anchor="start" textLength="42" lengthAdjust="spacingAndGlyphs" stroke="#000" stroke-width="0.18">RI TCs</text>
<rect x="346.5" y="12.5" width="104.2" height="44.5" rx="2.8" ry="2.8" fill="#fff" fill-opacity="0.8" stroke="#cccccc" stroke-width="1.1"/>
<line x1="350.9" y1="23.4" x2="380" y2="23.4" stroke="#1f77b4" stroke-width="2.1"/>
<text x="390" y="28.5" font-size="14" text-anchor="start" textLength="54.96" lengthAdjust="spacingAndGlyphs" stroke="#000" stroke-width="0.18">Group A</text>
<line x1="350.9" y1="43.5" x2="380" y2="43.5" stroke="#ff7f0e" stroke-width="2.1"/>
<text x="390" y="48.6" font-size="14" text-anchor="start" textLength="55.27" lengthAdjust="spacingAndGlyphs" stroke="#000" stroke-width="0.18">Group B</text>
<rect x="500.4" y="316.6" width="106.1" height="43.8" rx="2.8" ry="2.8" fill="#fff" fill-opacity="0.8" stroke="#cccccc" stroke-width="1.1"/>
<line x1="504.9" y1="327.5" x2="534.2" y2="327.5" stroke="#2ca02c" stroke-width="2.1"/>
<text x="543.9" y="332.6" font-size="14" text-anchor="start" textLength="56.08" lengthAdjust="spacingAndGlyphs" stroke="#000" stroke-width="0.18">Group C</text>
<line x1="504.9" y1="347.3" x2="534.2" y2="347.3" stroke="#ff7f0e" stroke-width="2.1" stroke-opacity="0.5"/>
<text x="543.9" y="352.4" font-size="14" text-anchor="start" textLength="56.88" lengthAdjust="spacingAndGlyphs" stroke="#000" stroke-width="0.18">Group D</text>
</svg>
</body></html>
